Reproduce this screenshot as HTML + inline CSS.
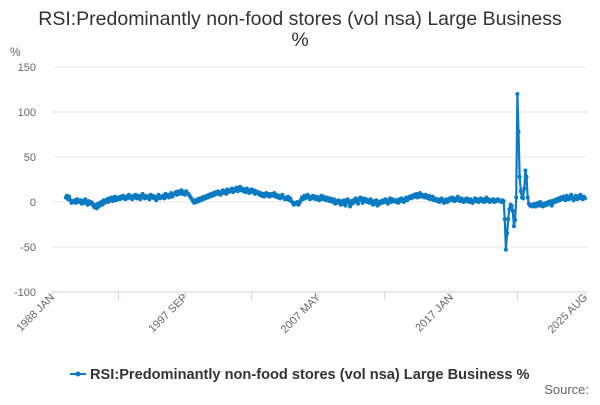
<!DOCTYPE html>
<html><head><meta charset="utf-8"><style>
body{margin:0;background:#fff;font-family:"Liberation Sans",sans-serif;}
svg text{font-family:"Liberation Sans",sans-serif;}
</style></head><body>
<svg id="chart" width="600" height="400" xmlns="http://www.w3.org/2000/svg">
<text x="300" y="25" text-anchor="middle" font-size="19.5" fill="#333">RSI:Predominantly non-food stores (vol nsa) Large Business</text>
<text x="300" y="46" text-anchor="middle" font-size="19.5" fill="#333">%</text>
<text x="10" y="56" font-size="12" fill="#666">%</text>
<g id="grid"></g><g id="xaxis"></g><g id="series"></g>
<g>
<line x1="70" y1="374" x2="86" y2="374" stroke="#0a7bc2" stroke-width="2"/>
<circle cx="78" cy="374" r="2.5" fill="#0a7bc2"/>
<text x="90" y="379" font-size="14.6" font-weight="bold" fill="#333">RSI:Predominantly non-food stores (vol nsa) Large Business %</text>
</g>
<text x="589" y="394" text-anchor="end" font-size="13" fill="#666">Source:</text>
</svg>
<script>
const yTicks=[150,100,50,0,-50,-100];
const xTickLabels=["1988 JAN","1997 SEP","2007 MAY","2017 JAN","2025 AUG"];
const xTickMonths=[0,116,232,348,465];
const minorTickMonths=[58,174,290,406];
const startMonth=12;
const values=[
5,7,3,6,2,-1,1,0,2,-1,3,1,
0,2,-2,1,-1,3,0,-3,1,-2,0,-1,
-4,-6,-3,-7,-2,-5,-1,0,-3,2,-1,1,
3,0,4,2,5,1,3,6,2,4,5,3,
6,4,7,5,3,6,4,8,5,6,3,7,
5,8,4,6,7,3,5,9,6,4,7,5,
6,3,8,5,7,4,6,2,5,8,4,6,
5,7,4,9,6,8,5,7,10,6,8,9,
11,8,12,9,10,13,9,11,8,12,10,9,
7,5,3,1,-1,2,0,3,1,4,2,5,
3,6,4,7,5,8,6,9,7,10,8,11,
9,12,10,8,11,13,10,12,9,14,11,13,
12,15,11,14,13,16,12,14,17,13,15,12,
14,11,15,13,10,12,14,11,13,9,12,10,
11,8,10,7,9,6,8,10,7,9,6,8,
9,7,10,6,8,5,7,4,6,8,5,3,
5,3,6,2,4,1,-1,-3,-1,-2,0,-3,
-1,2,5,3,7,4,6,8,5,3,6,4,
7,5,3,6,4,2,5,7,3,6,4,2,
5,3,1,4,2,0,3,-2,1,-1,2,0,
-3,1,-2,2,-4,0,3,-1,-5,1,-2,2,
0,4,1,-2,3,5,2,-1,4,1,3,0,
2,-1,3,0,-3,1,-2,2,-4,0,-2,1,
-1,2,0,3,1,-2,2,4,0,3,1,2,
0,2,-1,3,1,4,2,0,3,5,2,4,
6,4,7,5,8,6,9,5,7,10,6,8,
7,5,8,6,4,7,3,5,6,2,4,3,
1,3,0,2,4,1,-1,2,3,0,2,4,
2,5,3,1,4,2,6,3,1,4,2,0,
3,1,4,2,0,3,1,-1,2,4,1,3,
0,2,4,1,3,0,2,5,1,3,0,2,
1,3,0,2,1,3,2,1,0,2,1,-19,
-53,-35,-19,-8,-3,-4,-10,-27,-20,5,120,78,
28,12,5,4,15,35,28,5,-2,-4,-3,-5,
-4,-2,-5,-3,-1,-4,0,-3,-5,-2,-4,-1,
-3,0,-2,1,-4,-1,2,0,3,1,4,2,
5,3,6,4,2,7,5,3,6,8,4,2,
5,7,3,6,4,8,5,3,6,4
];
const X0=52,X1=585,MMAX=465,Y0=292,Y1=67,VMIN=-100,VMAX=150;
function xs(m){return X0+(m/MMAX)*(X1-X0);}
function ys(v){return Y0-(v-VMIN)/(VMAX-VMIN)*(Y0-Y1);}
const NS="http://www.w3.org/2000/svg";
function mk(t,a,p){const e=document.createElementNS(NS,t);for(const k in a)e.setAttribute(k,a[k]);p.appendChild(e);return e;}
const grid=document.getElementById('grid');
yTicks.forEach(v=>{
  const l=mk('line',{x1:X0,x2:X1+3,y1:ys(v),y2:ys(v),stroke:v===-100?'#ccd6eb':'#e6e6e6','stroke-width':1},grid);
  
  
  const t=mk('text',{x:36,y:ys(v)+4,'text-anchor':'end','font-size':11,fill:'#666'},grid);
  t.textContent=v;
  
  
});
const xa=document.getElementById('xaxis');
xTickMonths.concat(minorTickMonths).forEach(m=>{
  const l=mk('line',{x1:xs(m),x2:xs(m),y1:Y0,y2:Y0+8,stroke:'#ccd6eb'},xa);
  
  
});
xTickLabels.forEach((s,i)=>{
  const x=xs(xTickMonths[i]);
  const t=mk('text',{x:x+3,y:Y0+6,'text-anchor':'end','font-size':11,fill:'#666',transform:`rotate(-45 ${x+3} ${Y0+6})`},xa);
  t.textContent=s;
  
  
});
const sg=document.getElementById('series');
const pts=values.map((v,i)=>xs(startMonth+i).toFixed(2)+','+ys(v).toFixed(2));
const pl=mk('polyline',{points:pts.join(' '),fill:'none',stroke:'#0a7bc2','stroke-width':2.2,'stroke-linejoin':'round'},sg);


values.forEach((v,i)=>{
  const c=mk('circle',{cx:xs(startMonth+i),cy:ys(v),r:2,fill:'#0a7bc2'},sg);
  
  
});
</script>
</body></html>
